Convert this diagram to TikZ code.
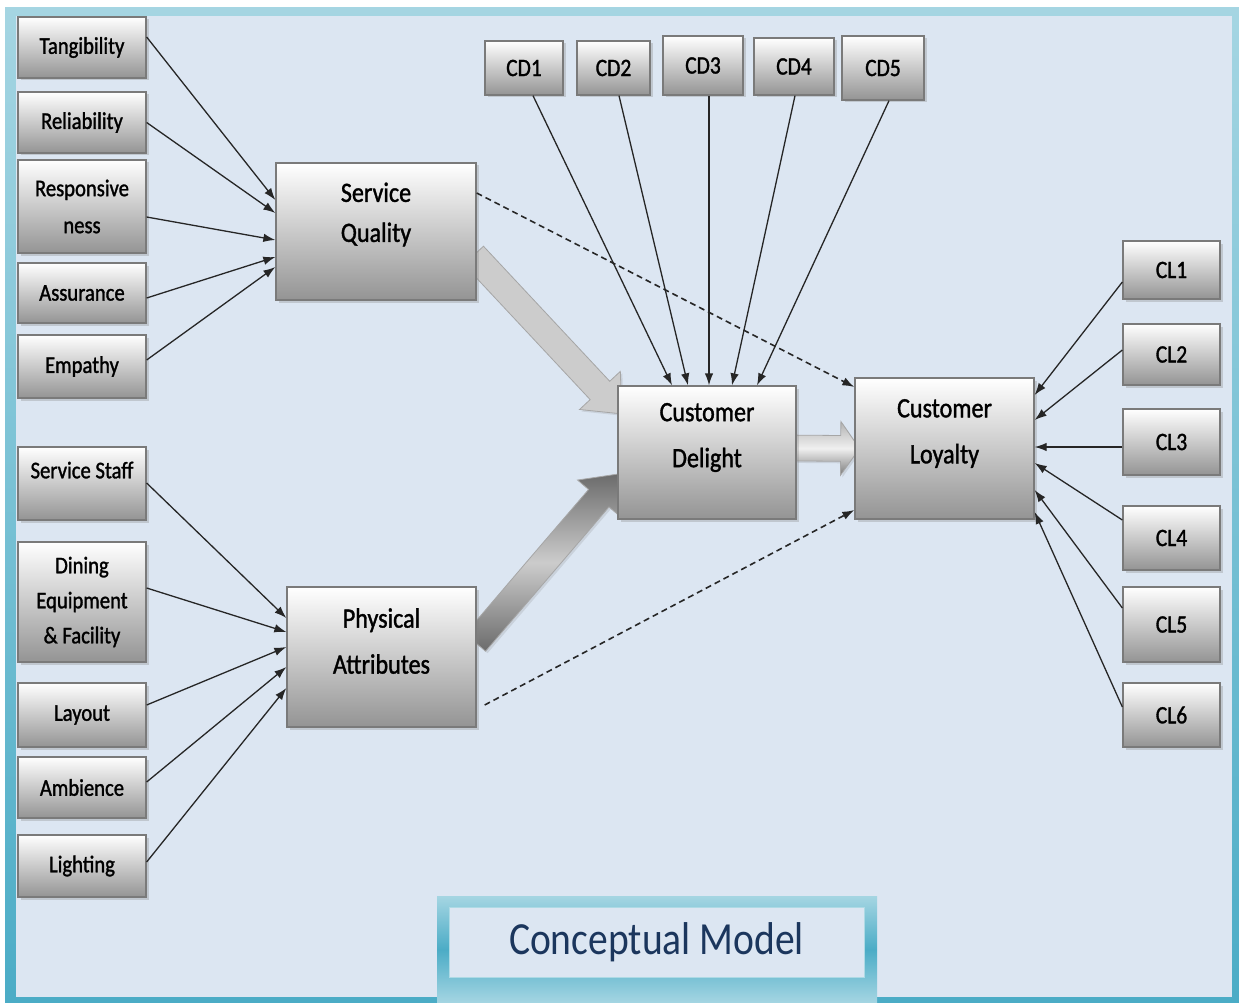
\documentclass[tikz,border=0pt]{standalone}
\usepackage{fontspec}
\setmainfont{Carlito}[FakeStretch=0.86]
\newfontfamily\boxfont{Carlito}[FakeStretch=0.86,FakeBold=1.3]
\usetikzlibrary{arrows.meta,shapes.arrows,shadows}
\definecolor{modelbg}{HTML}{DCE6F2}
\definecolor{modelteal}{HTML}{4BACC6}
\definecolor{modelline}{HTML}{7A7A7A}
\definecolor{modelnavy}{HTML}{1B365D}
\pgfdeclarelayer{back}
\pgfdeclarelayer{under}
\pgfsetlayers{back,under,main}
\tikzset{
  model box/.style={draw=modelline,line width=1.3pt,top color=white,
    bottom color=black!42,inner sep=0pt,align=center,text=black,
    drop shadow={shadow xshift=2.5pt,shadow yshift=-2.5pt,opacity=0.3}},
  item/.style={model box,minimum width=128pt,font=\boxfont\fontsize{24}{37}\selectfont},
  tag/.style={model box,font=\boxfont\fontsize{25}{30}\selectfont},
  construct text/.style={align=center,text=black,font=\boxfont\fontsize{28}{46}\selectfont},
  link/.style={draw=black!85,line width=1.3pt,-{Latex[length=12pt,width=8.5pt]}},
  dashed link/.style={link,line width=1.6pt,dash pattern=on 6pt off 4pt},
  flow/.style={single arrow,sloped,inner sep=13pt,single arrow head extend=14.5pt,
    single arrow tip angle=82,draw=black!35,line width=0.8pt,
    drop shadow={shadow xshift=2pt,shadow yshift=-2pt,opacity=0.2}}
}

\begin{document}
\begin{tikzpicture}[x=1pt,y=-1pt]
  \useasboundingbox (0,0) rectangle (1239,1003);
  \begin{pgfonlayer}{back}
    \fill[white] (0,0) rectangle (1239,1003);
    \shade[top color=modelteal!50,bottom color=modelteal] (5,8) rectangle (1239,1003);
    \fill[modelbg] (16,16) rectangle (1232,997);
  \end{pgfonlayer}

  % service quality items
  \node[item,minimum height=61pt] (tang) at (82,47.5) {Tangibility};
  \node[item,minimum height=61pt] (reli) at (82,122.5) {Reliability};
  \node[item,minimum height=93pt] (resp) at (82,206.5) {Responsive\\ness};
  \node[item,minimum height=60pt] (assu) at (82,293) {Assurance};
  \node[item,minimum height=63pt] (empa) at (82,366.5) {Empathy};

  % physical attribute items
  \node[item,minimum height=73pt,text depth=27pt] (staff) at (82,483.5) {Service Staff};
  \node[item,minimum height=120pt,font=\boxfont\fontsize{24}{35}\selectfont] (dining) at (82,602) {Dining\\Equipment\\\& Facility};
  \node[item,minimum height=64pt] (layout) at (82,715) {Layout};
  \node[item,minimum height=61pt] (ambi) at (82,787.5) {Ambience};
  \node[item,minimum height=62pt] (light) at (82,866) {Lighting};

  % constructs
  \node[model box,minimum width=200pt,minimum height=137pt,
    label={[construct text,font=\boxfont\fontsize{28}{40}\selectfont,yshift=17pt]center:Service\\Quality}] (quality) at (376,231.5) {};
  \node[model box,minimum width=189pt,minimum height=140pt,
    label={[construct text,yshift=16pt]center:Physical\\Attributes}] (physical) at (381.5,657) {};
  \node[model box,minimum width=178pt,minimum height=133pt,
    label={[construct text,yshift=15pt]center:Customer\\Delight}] (delight) at (707,452.5) {};
  \node[model box,minimum width=179pt,minimum height=141pt,
    label={[construct text,yshift=15pt]center:Customer\\Loyalty}] (loyalty) at (944.5,448.5) {};

  % indicators
  \foreach \n/\x/\y/\w/\h in {1/524/68/78/54,2/613.5/68/73/54,3/703/65.5/80/59,
      4/794/66.5/80/57,5/883/68/82/64}
    \node[tag,minimum width=\w pt,minimum height=\h pt] (cd\n) at (\x,\y) {CD\n};
  \foreach \n/\y/\h in {1/270/58,2/354.5/61,3/442/66,4/538/64,5/624.5/75,6/715/64}
    \node[tag,minimum width=97pt,minimum height=\h pt] (cl\n) at (1171.5,\y) {CL\n};

  % links
  \foreach \a/\s/\t in {tang/10.5/31.5,reli/0/18.5,resp/-10.5/-8.5,assu/-5/-25.5,empa/6.5/-35.5}
    \draw[link] ([yshift=\s pt]\a.east) -- ([yshift=\t pt]quality.west);
  \foreach \a/\s/\t in {staff/0.5/39,dining/14/25,layout/10/10,ambi/5.5/-10,light/4/-31}
    \draw[link] ([yshift=\s pt]\a.east) -- ([yshift=\t pt]physical.west);
  \foreach \n/\s/\t in {1/9/-35,2/5.5/-19,3/6/2,4/1/25,5/6/50}
    \draw[link] ([xshift=\s pt]cd\n.south) -- ([xshift=\t pt]delight.north);
  \foreach \n/\s/\t in {1/-12/53.5,2/4.5/28.5,3/-5/1.5,4/18/-14.5,5/16.5/-41.5,6/8/-63.5}
    \draw[link] ([yshift=\s pt]cl\n.west) -- ([yshift=\t pt]loyalty.east);
  \draw[dashed link] ([yshift=38.5pt]quality.east) -- ([yshift=61.5pt]loyalty.west);
  \draw[dashed link] ([xshift=8pt,yshift=-48pt]physical.east) -- ([yshift=-61.5pt]loyalty.west);

  % block arrows
  \begin{pgfonlayer}{under}
    \path ([xshift=-8pt,yshift=-18.5pt]quality.east) --
      node[flow,fill=black!20,minimum height=217pt] (qd) {} ([xshift=-1pt,yshift=44.5pt]delight.west);
    \path ([xshift=-6pt,yshift=9pt]physical.east) --
      node[flow,top color=black!58,bottom color=black!58,middle color=black!20,
        minimum height=222pt] (pd) {} ([xshift=-3pt,yshift=-27.5pt]delight.west);
    \path ([xshift=-5pt,yshift=4.5pt]delight.east) --
      node[flow,top color=black!30,bottom color=black!52,middle color=black!6,
        minimum height=64pt,inner sep=12.5pt,single arrow head extend=14pt,
        single arrow tip angle=110] (dl) {} (loyalty.west);
  \end{pgfonlayer}

  % title
  \shade[top color=modelteal!50,bottom color=modelteal!50,middle color=modelteal]
    (437,896) rectangle (877,1003);
  \node[draw=white!55!modelteal,line width=1pt,fill=modelbg,minimum width=415pt,
    minimum height=70pt,text=modelnavy,font=\fontsize{46}{50}\selectfont] (title) at (656.5,942) {Conceptual Model};
\end{tikzpicture}
\end{document}
